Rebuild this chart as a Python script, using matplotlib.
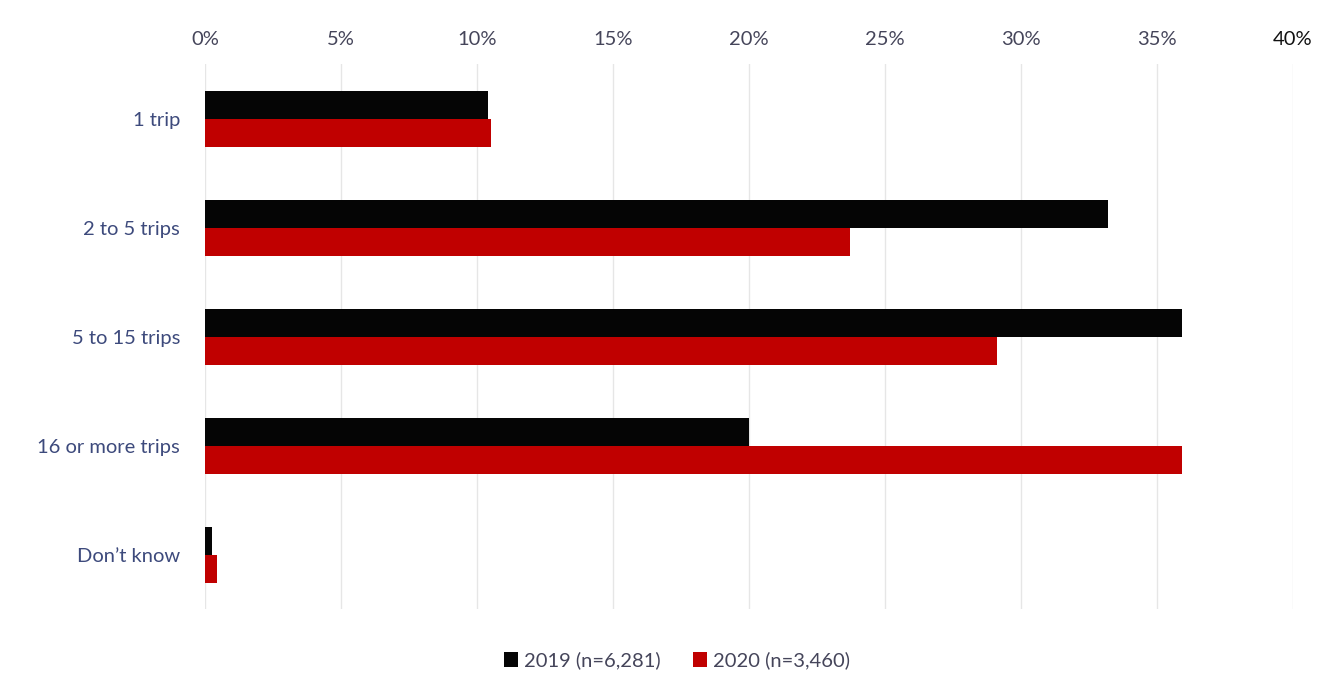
import matplotlib.pyplot as plt
import numpy as np
from matplotlib.ticker import FuncFormatter

# --- data ---
categories = ["1 trip", "2 to 5 trips", "5 to 15 trips", "16 or more trips", "Don\u2019t know"]
share_2019 = [10.4, 33.2, 35.9, 20.0, 0.25]
share_2020 = [10.5, 23.7, 29.1, 35.9, 0.45]
series_labels = ["2019 (n=6,281)", "2020 (n=3,460)"]
x_ticks = [0, 5, 10, 15, 20, 25, 30, 35, 40]

plt.rcParams["font.family"] = ["Lato", "DejaVu Sans"]

fig = plt.figure(figsize=(13.17, 6.91), dpi=100)
ax = fig.add_axes([0.1557, 0.118, 0.8261, 0.7887])

y = np.arange(len(categories))
h = 0.26
ax.barh(y - h / 2, share_2019, height=h, color="#050505", label=series_labels[0], zorder=3)
ax.barh(y + h / 2, share_2020, height=h, color="#c00000", label=series_labels[1], zorder=3)

ax.set_xlim(0, 40)
ax.set_ylim(len(categories) - 0.5, -0.5)
ax.set_xticks(x_ticks)
ax.xaxis.set_major_formatter(FuncFormatter(lambda v, _: f"{v:.0f}%"))
ax.xaxis.tick_top()
ax.tick_params(axis="x", length=0, pad=12, labelsize=14.5, labelcolor="#45455a")
ax.get_xticklabels()[-1].set_color("#111111")
ax.set_yticks(y)
ax.set_yticklabels(categories)
ax.tick_params(axis="y", length=0, pad=18, labelsize=14.5, labelcolor="#3d4a7c")

ax.grid(axis="x", color="#e6e6e6", linewidth=1.0, zorder=0)
for s in ax.spines.values():
    s.set_visible(False)

fig.legend(loc="center", bbox_to_anchor=(0.514, 0.044), ncol=2, frameon=False,
           fontsize=14.5, labelcolor="#45455a", handlelength=0.7, handleheight=0.7,
           handletextpad=0.3, columnspacing=1.6)

fig.savefig("out.png", dpi=100, facecolor="white")
